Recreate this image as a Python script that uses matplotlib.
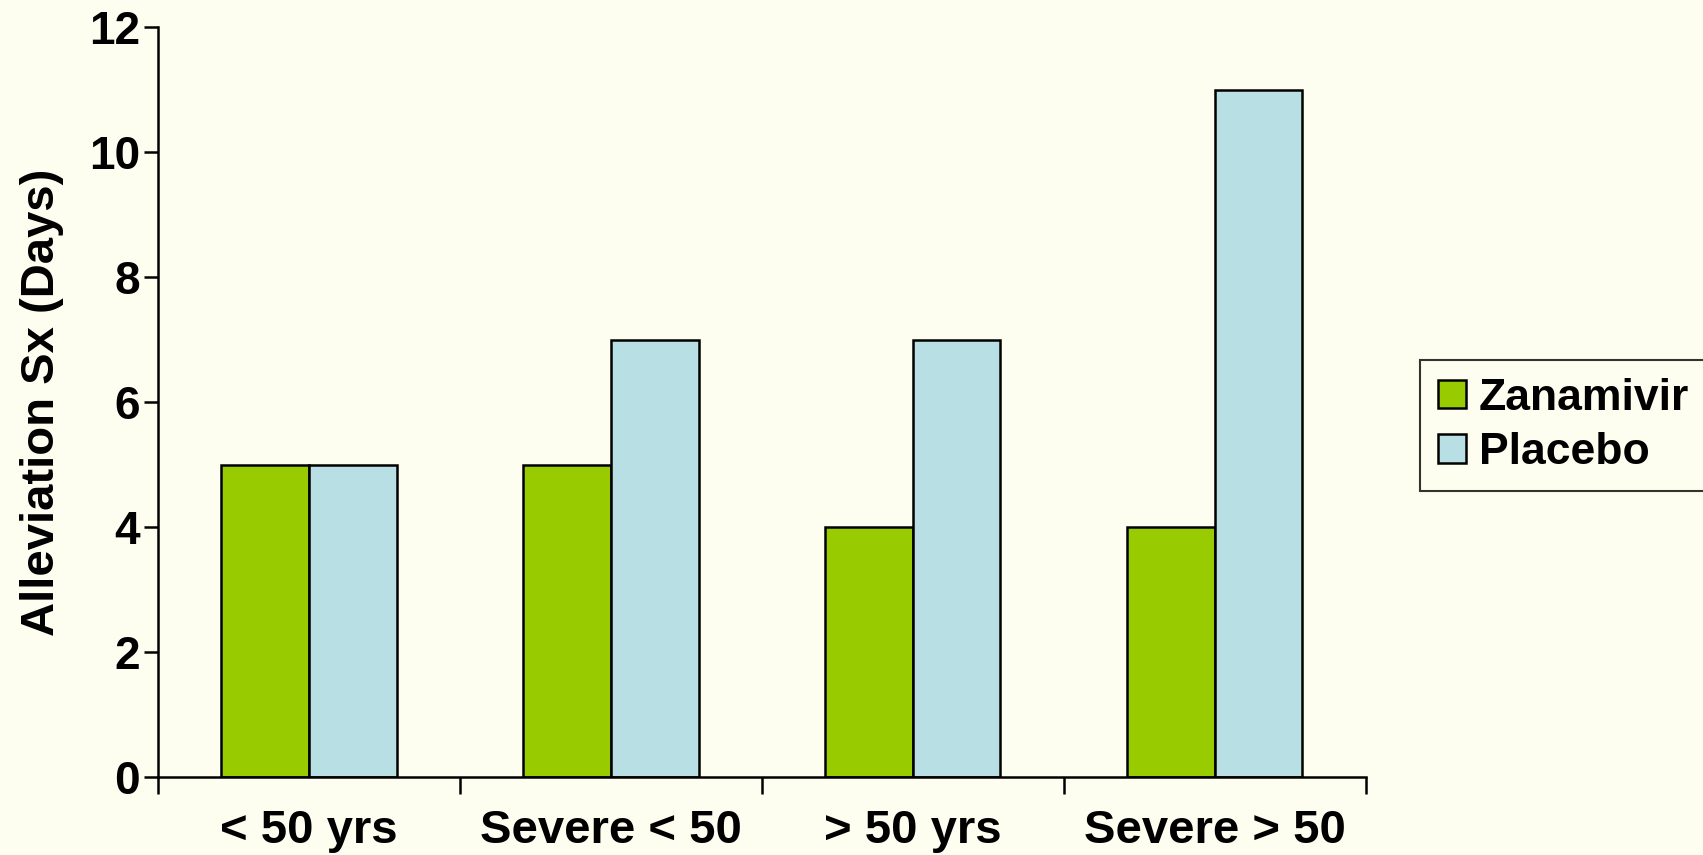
import numpy as np
import matplotlib
matplotlib.use("Agg")
import matplotlib.pyplot as plt

categories = ["< 50 yrs", "Severe < 50", "> 50 yrs", "Severe > 50"]
zanamivir = [5, 5, 4, 4]
placebo = [5, 7, 7, 11]

bg = "#FDFEF0"
green = "#99CC00"
blue = "#B8DFE3"

plt.rcParams["font.family"] = ["Liberation Sans", "DejaVu Sans"]
plt.rcParams["font.weight"] = "bold"

fig = plt.figure(figsize=(17.03, 8.55), dpi=100, facecolor=bg)
ax = fig.add_axes([0.0928, 0.0912, 0.7092, 0.8768])
ax.set_facecolor(bg)

x = np.arange(len(categories))
w = 0.29
ax.bar(x - w / 2, zanamivir, w, color=green, edgecolor="black", linewidth=1.8, label="Zanamivir")
ax.bar(x + w / 2, placebo, w, color=blue, edgecolor="black", linewidth=1.8, label="Placebo")

ax.set_xlim(-0.5, len(categories) - 0.5)
ax.set_ylim(0, 12)
ax.set_yticks(range(0, 13, 2))
ax.set_xticks(x)
ax.set_xticklabels(categories)
ax.set_xticks(np.arange(-0.5, len(categories), 1), minor=True)
ax.tick_params(axis="x", which="major", length=0, pad=23, labelsize=34)
ax.tick_params(axis="x", which="minor", length=12, width=1.8, direction="out")
ax.tick_params(axis="y", length=10, width=1.8, direction="out", labelsize=33, pad=3)
for lab in ax.get_xticklabels() + ax.get_yticklabels():
    lab.set_fontweight("bold")

for side in ["top", "right"]:
    ax.spines[side].set_visible(False)
for side in ["left", "bottom"]:
    ax.spines[side].set_linewidth(1.8)

ax.set_ylabel("Alleviation Sx (Days)", fontsize=34, fontweight="bold", labelpad=18)

leg = fig.legend(loc="upper left", bbox_to_anchor=(0.834, 0.579), fontsize=32,
                 frameon=True, fancybox=False, handlelength=0.62, handleheight=0.62,
                 handletextpad=0.3, borderpad=0.4, labelspacing=0.3, borderaxespad=0)
leg.get_frame().set_edgecolor("black")
leg.get_frame().set_linewidth(1.5)
leg.get_frame().set_facecolor(bg)
for t in leg.get_texts():
    t.set_fontweight("bold")

fig.savefig("out.png", dpi=100, facecolor=bg)
